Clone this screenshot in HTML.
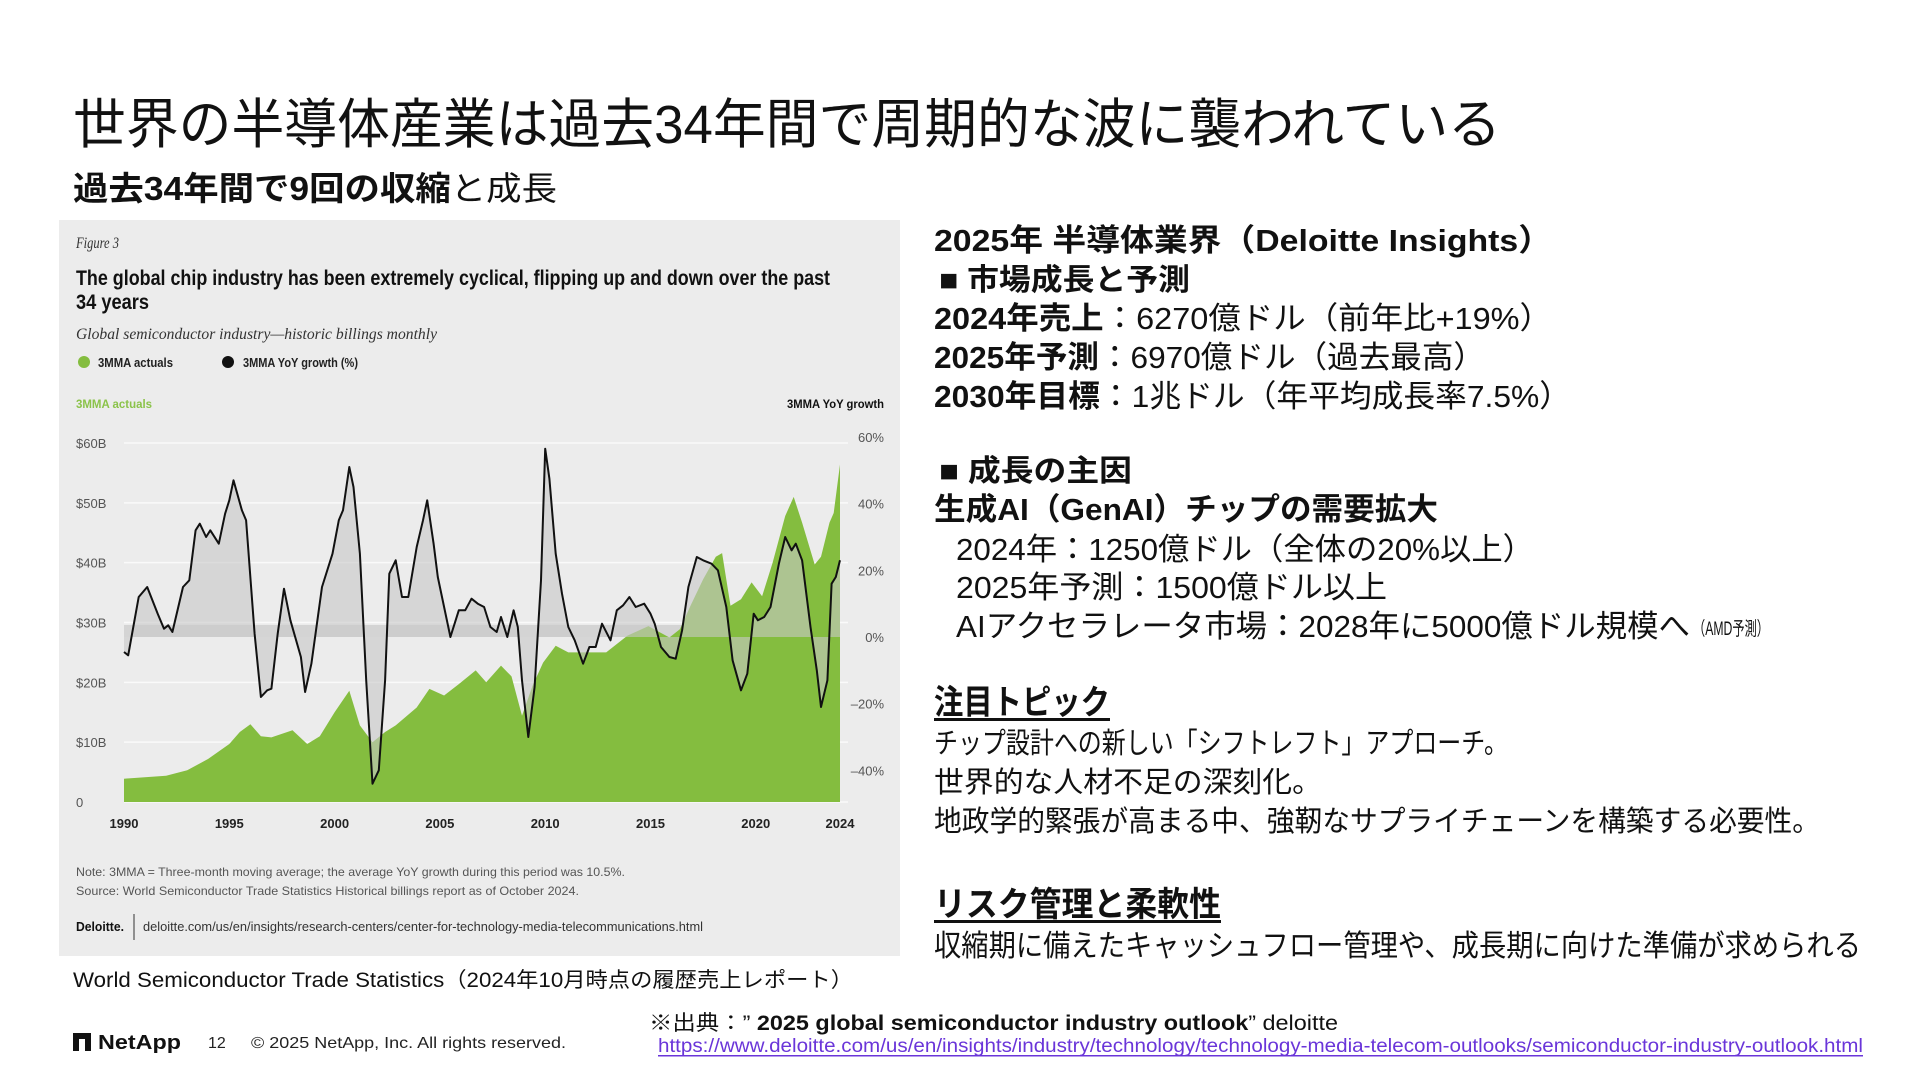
<!DOCTYPE html>
<html><head><meta charset="utf-8"><style>
html,body{margin:0;padding:0;background:#fff;}
svg{display:block;}
text{font-family:"Liberation Sans","Noto Sans CJK JP",sans-serif;}
.serif{font-family:"Liberation Serif","Noto Serif CJK SC",serif;font-style:italic;}
</style></head><body>
<svg id="page" width="1920" height="1080" viewBox="0 0 1920 1080">
  <rect x="0" y="0" width="1920" height="1080" fill="#ffffff"/>
  <text x="73" y="143" font-size="54" fill="#111" textLength="1428" lengthAdjust="spacingAndGlyphs">世界の半導体産業は過去34年間で周期的な波に襲われている</text>
  <text x="73" y="200" font-size="33" fill="#111" textLength="484" lengthAdjust="spacingAndGlyphs"><tspan font-weight="bold">過去34年間で9回の収縮</tspan>と成長</text>

  <g>
    <rect x="59" y="220" width="841" height="736" fill="#ececec"/>
    <text class="serif" x="76" y="248" font-size="16" fill="#333" textLength="43" lengthAdjust="spacingAndGlyphs">Figure 3</text>
    <text x="76" y="285" font-size="21" font-weight="bold" fill="#111" textLength="754" lengthAdjust="spacingAndGlyphs">The global chip industry has been extremely cyclical, flipping up and down over the past</text>
    <text x="76" y="309" font-size="21" font-weight="bold" fill="#111" textLength="73" lengthAdjust="spacingAndGlyphs">34 years</text>
    <text class="serif" x="76" y="339" font-size="16" fill="#333" textLength="361" lengthAdjust="spacingAndGlyphs">Global semiconductor industry—historic billings monthly</text>
    <circle cx="84" cy="362" r="6" fill="#84bd3f"/>
    <text x="98" y="367" font-size="13" font-weight="bold" fill="#222" textLength="75" lengthAdjust="spacingAndGlyphs">3MMA actuals</text>
    <circle cx="228" cy="362" r="6" fill="#111"/>
    <text x="243" y="367" font-size="13" font-weight="bold" fill="#222" textLength="115" lengthAdjust="spacingAndGlyphs">3MMA YoY growth (%)</text>
    <text x="76" y="408" font-size="12" font-weight="bold" fill="#8bc34a" textLength="76" lengthAdjust="spacingAndGlyphs">3MMA actuals</text>
    <text x="884" y="408" font-size="12" font-weight="bold" fill="#111" text-anchor="end" textLength="97" lengthAdjust="spacingAndGlyphs">3MMA YoY growth</text>
    <g id="plot"></g>
    <text x="76" y="876" font-size="12" fill="#555" textLength="549" lengthAdjust="spacingAndGlyphs">Note: 3MMA = Three-month moving average; the average YoY growth during this period was 10.5%.</text>
    <text x="76" y="895" font-size="12" fill="#555" textLength="503" lengthAdjust="spacingAndGlyphs">Source: World Semiconductor Trade Statistics Historical billings report as of October 2024.</text>
    <text x="76" y="931" font-size="13" font-weight="bold" fill="#111" textLength="48" lengthAdjust="spacingAndGlyphs">Deloitte.</text>
    <line x1="134" y1="914" x2="134" y2="940" stroke="#333" stroke-width="1"/>
    <text x="143" y="931" font-size="13" fill="#333" textLength="560" lengthAdjust="spacingAndGlyphs">deloitte.com/us/en/insights/research-centers/center-for-technology-media-telecommunications.html</text>
  </g>

  <g fill="#111">
    <text x="934" y="251" font-size="31" font-weight="bold" textLength="618" lengthAdjust="spacingAndGlyphs">2025年 半導体業界（Deloitte Insights）</text>
    <text x="939" y="290" font-size="30" font-weight="bold" textLength="251" lengthAdjust="spacingAndGlyphs">■ 市場成長と予測</text>
    <text x="934" y="329" font-size="31" textLength="618" lengthAdjust="spacingAndGlyphs"><tspan font-weight="bold">2024年売上</tspan>：6270億ドル（前年比+19%）</text>
    <text x="934" y="368" font-size="31" textLength="551" lengthAdjust="spacingAndGlyphs"><tspan font-weight="bold">2025年予測</tspan>：6970億ドル（過去最高）</text>
    <text x="934" y="407" font-size="31" textLength="637" lengthAdjust="spacingAndGlyphs"><tspan font-weight="bold">2030年目標</tspan>：1兆ドル（年平均成長率7.5%）</text>
    <text x="939" y="481" font-size="30" font-weight="bold" textLength="193" lengthAdjust="spacingAndGlyphs">■ 成長の主因</text>
    <text x="934" y="520" font-size="31" font-weight="bold" textLength="504" lengthAdjust="spacingAndGlyphs">生成AI（GenAI）チップの需要拡大</text>
    <text x="956" y="560" font-size="31" textLength="578" lengthAdjust="spacingAndGlyphs">2024年：1250億ドル（全体の20%以上）</text>
    <text x="956" y="598" font-size="31" textLength="431" lengthAdjust="spacingAndGlyphs">2025年予測：1500億ドル以上</text>
    <text x="956" y="637" font-size="31" textLength="734" lengthAdjust="spacingAndGlyphs">AIアクセラレータ市場：2028年に5000億ドル規模へ</text>
    <text x="1693" y="635" font-size="19" textLength="76" lengthAdjust="spacingAndGlyphs">（AMD予測）</text>
    <text x="934" y="714" font-size="34" font-weight="bold" textLength="176" lengthAdjust="spacingAndGlyphs">注目トピック</text>
    <rect x="934" y="718" width="176" height="3" fill="#111"/>
    <text x="934" y="753" font-size="29" textLength="574" lengthAdjust="spacingAndGlyphs">チップ設計への新しい「シフトレフト」アプローチ。</text>
    <text x="934" y="792" font-size="29" textLength="388" lengthAdjust="spacingAndGlyphs">世界的な人材不足の深刻化。</text>
    <text x="934" y="831" font-size="29" textLength="886" lengthAdjust="spacingAndGlyphs">地政学的緊張が高まる中、強靭なサプライチェーンを構築する必要性。</text>
    <text x="934" y="916" font-size="34" font-weight="bold" textLength="287" lengthAdjust="spacingAndGlyphs">リスク管理と柔軟性</text>
    <rect x="934" y="920" width="287" height="3" fill="#111"/>
    <text x="934" y="956" font-size="30" textLength="927" lengthAdjust="spacingAndGlyphs">収縮期に備えたキャッシュフロー管理や、成長期に向けた準備が求められる</text>
  </g>

  <text x="73" y="987" font-size="21" fill="#111" textLength="780" lengthAdjust="spacingAndGlyphs">World Semiconductor Trade Statistics（2024年10月時点の履歴売上レポート）</text>
  <g>
    <path d="M73 1033 h18 v18 h-6 v-12 h-6 v12 h-6 z" fill="#111"/>
    <text x="98" y="1049" font-size="20" font-weight="bold" fill="#111" textLength="83" lengthAdjust="spacingAndGlyphs">NetApp</text>
  </g>
  <text x="208" y="1048" font-size="16" fill="#222">12</text>
  <text x="251" y="1048" font-size="16" fill="#222" textLength="315" lengthAdjust="spacingAndGlyphs">© 2025 NetApp, Inc. All rights reserved.</text>
  <text x="649" y="1030" font-size="21" fill="#111" textLength="689" lengthAdjust="spacingAndGlyphs">※出典：” <tspan font-weight="bold">2025 global semiconductor industry outlook</tspan>” deloitte</text>
  <text x="658" y="1052" font-size="19" fill="#6a35d9" textLength="1205" lengthAdjust="spacingAndGlyphs">https://www.deloitte.com/us/en/insights/industry/technology/technology-media-telecom-outlooks/semiconductor-industry-outlook.html</text>
  <rect x="658" y="1055" width="1205" height="1.5" fill="#6a35d9"/>
</svg>
<script>
// ---- chart data ----
const billingYears = [1990,1992,1993,1994,1995,1995.5,1996,1996.5,1997,1998,1998.7,1999.3,2000,2000.7,2001.2,2001.8,2002.4,2002.9,2003.9,2004.5,2005.2,2005.9,2006.7,2007.2,2007.9,2008.4,2008.9,2009.4,2009.9,2010.5,2011.1,2011.9,2012.9,2013.9,2014.9,2015.9,2016.4,2016.9,2017.5,2018.1,2018.4,2018.8,2019.3,2019.8,2020.3,2020.8,2021.4,2021.8,2022.2,2022.8,2023.1,2023.5,2023.7,2024];
const billingValues = [3.9,4.4,5.3,7.2,9.7,11.7,13,11,10.8,12,9.7,11,15,18.6,12.8,10,11.7,12.8,15.8,18.9,17.8,19.7,22,20,22.8,21,14.4,19.4,23.3,26.1,25,25,25,27.8,29.4,27.5,28.9,32.8,37.2,41,41.6,32.8,33.9,36.7,34.4,40,47.8,51,46.7,39.7,41,46.7,48.3,56.4];
const growthYears = [1990,1990.2,1990.7,1991.1,1991.6,1991.9,1992.1,1992.3,1992.8,1993.1,1993.4,1993.6,1993.9,1994.1,1994.5,1994.8,1995,1995.2,1995.6,1995.8,1996.2,1996.5,1996.8,1997,1997.3,1997.6,1997.9,1998.4,1998.6,1998.9,1999.4,1999.9,2000.2,2000.4,2000.7,2000.9,2001.2,2001.5,2001.8,2002.1,2002.4,2002.6,2002.9,2003.2,2003.5,2003.9,2004.2,2004.4,2004.7,2004.9,2005.2,2005.5,2005.9,2006.2,2006.5,2006.8,2007.1,2007.4,2007.7,2007.9,2008.2,2008.5,2008.7,2008.9,2009.2,2009.5,2009.8,2010,2010.2,2010.5,2010.8,2011.1,2011.4,2011.8,2012.1,2012.4,2012.7,2013.1,2013.4,2013.7,2014,2014.3,2014.7,2015,2015.2,2015.5,2015.9,2016.2,2016.5,2016.8,2017.2,2017.5,2017.9,2018.2,2018.6,2018.9,2019.3,2019.6,2019.9,2020.1,2020.4,2020.7,2021.1,2021.4,2021.7,2021.9,2022.2,2022.6,2022.9,2023.1,2023.4,2023.6,2023.8,2024];
const growthValues = [-4.5,-5.5,12,15,7,2.5,3.5,1.5,15,17,32,34,30,32,28,37,41,47,38,35,1,-18,-16,-15.5,1,14.5,5,-6,-16.5,-8,15,25,35,38,51,45,25,-13,-44,-40,-13,19,23,12,12,27,35,41,28,18,9,0,8,8,11.5,10,9,3,1.5,6,0,8,3,-13,-30,-15,17,56.5,47.5,25,13,3,-1,-8,-3,-3,4,-1,8,9.5,12,9,10,7,4,-3,-6,-6.5,2,15,24,23,22,20,9,-7,-16,-11,7,5,6,9,22,30,26,28,23,3,-10,-21,-13,16,18,23];
const leftTicks = [0,10,20,30,40,50,60];
const leftTickLabels = ["0","$10B","$20B","$30B","$40B","$50B","$60B"];
const rightTicks = [-40,-20,0,20,40,60];
const rightTickLabels = ["–40%","–20%","0%","20%","40%","60%"];
const yearTicks = [1990,1995,2000,2005,2010,2015,2020,2024];

const X0=124,X1=840,Y0=802,YTOP=443,G0=637,G60=437;
function xs(y){return X0+(y-1990)*(X1-X0)/34;}
function yb(v){return Y0-v*(Y0-YTOP)/60;}
function yg(g){return G0-g*(G0-G60)/60;}
const NS="http://www.w3.org/2000/svg";
const plot=document.getElementById('plot');
function mk(tag,attrs){const e=document.createElementNS(NS,tag);for(const k in attrs)e.setAttribute(k,attrs[k]);plot.appendChild(e);return e;}

leftTicks.forEach((t,i)=>{
  const l=mk('line',{x1:X0,x2:X1+8,y1:yb(t),y2:yb(t),stroke:'#fafafa','stroke-width':1.5});
  
  
  const tx=mk('text',{x:76,y:yb(t)+5,'font-size':13,fill:'#555'});
  tx.textContent=leftTickLabels[i];
  
  
});
rightTicks.forEach((t,i)=>{
  const tx=mk('text',{x:884,y:yg(t)+5,'font-size':13,fill:'#555','text-anchor':'end'});
  tx.textContent=rightTickLabels[i];
  
  
});
const band=mk('rect',{x:X0,y:yg(3.6),width:X1-X0,height:yg(0)-yg(3.6),fill:'#d4d4d4'});


let d='M'+xs(billingYears[0])+','+Y0;
billingYears.forEach((y,i)=>{d+=' L'+xs(y).toFixed(1)+','+yb(billingValues[i]).toFixed(1);});
d+=' L'+xs(billingYears[billingYears.length-1]).toFixed(1)+','+Y0+' Z';
const area=mk('path',{d:d,fill:'#84bd3f'});


let gd='M'+xs(growthYears[0]).toFixed(1)+','+G0;
let ld='';
growthYears.forEach((y,i)=>{const p=xs(y).toFixed(1)+','+yg(growthValues[i]).toFixed(1);gd+=' L'+p;ld+=(i?' L':'M')+p;});
gd+=' L'+xs(growthYears[growthYears.length-1]).toFixed(1)+','+G0+' Z';
const gf=mk('path',{d:gd,fill:'rgba(200,200,200,0.6)'});


const gl=mk('path',{d:ld,fill:'none',stroke:'#111','stroke-width':2,'stroke-linejoin':'round'});


yearTicks.forEach(y=>{
  const tx=mk('text',{x:xs(y),y:828,'font-size':13,'font-weight':'bold',fill:'#222','text-anchor':'middle'});
  tx.textContent=String(y);
  
  
});
</script>
</body></html>
